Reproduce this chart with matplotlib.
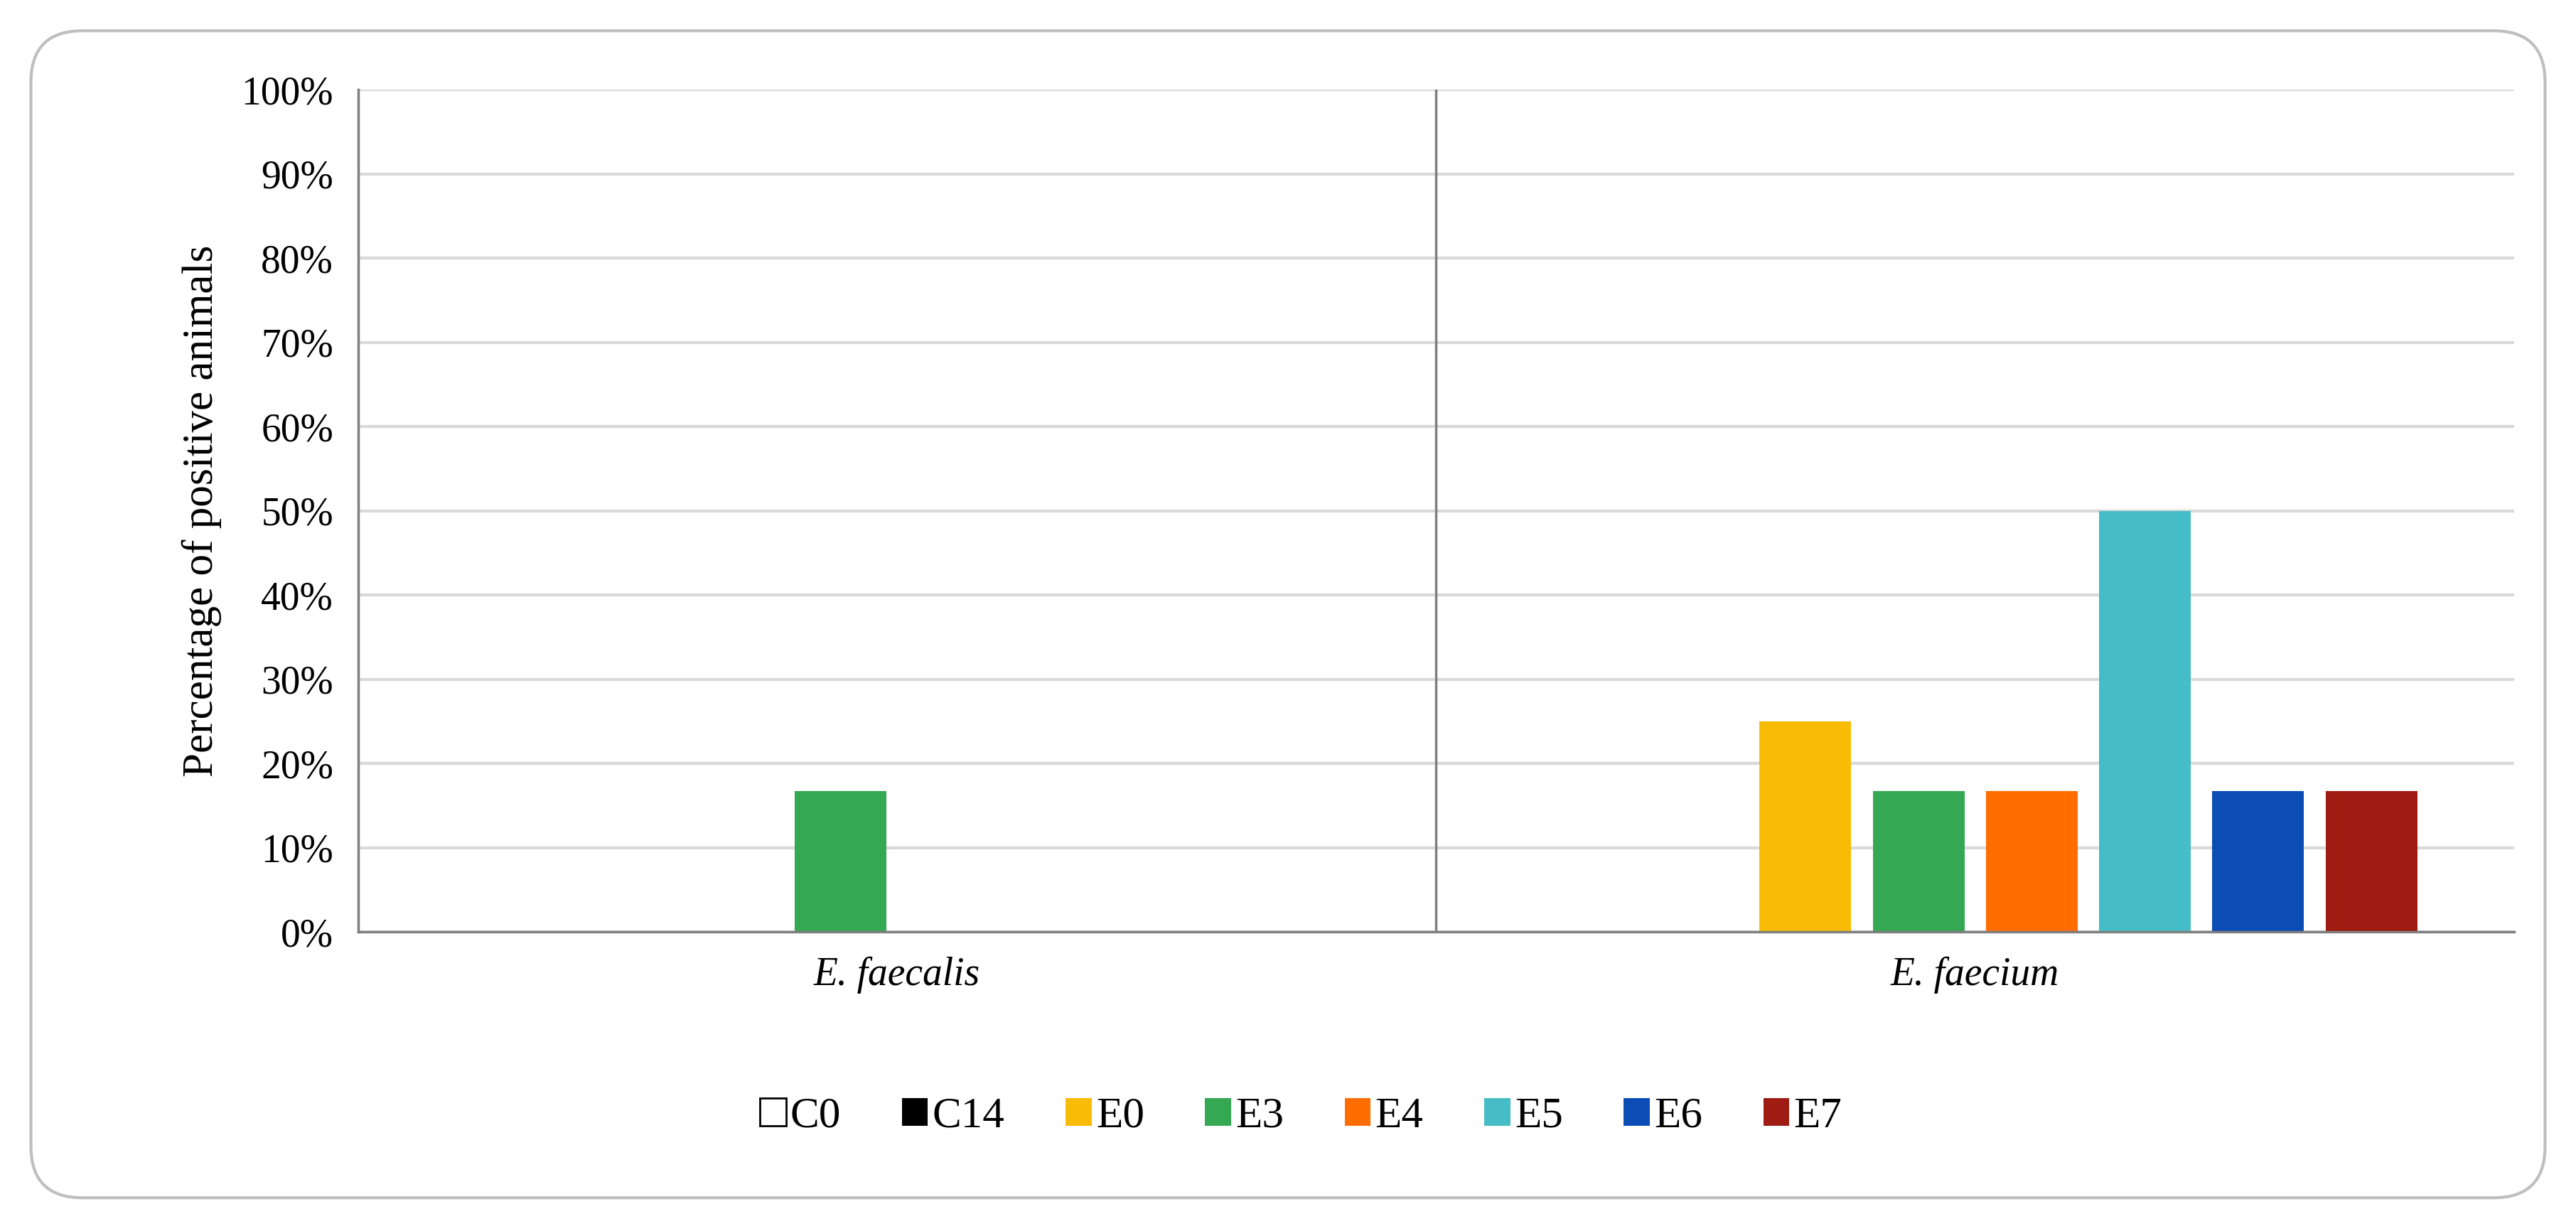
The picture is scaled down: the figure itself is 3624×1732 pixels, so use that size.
import numpy as np
import matplotlib.pyplot as plt
from matplotlib.patches import FancyBboxPatch

plt.rcParams['font.family'] = ['Liberation Serif', 'DejaVu Serif']

species = ["E. faecalis", "E. faecium"]
groups = ["C0", "C14", "E0", "E3", "E4", "E5", "E6", "E7"]
colors = ["white", "black", "#F9BC06", "#34A853", "#FF6D01", "#46BDC6", "#0B4DB4", "#9E1C12"]
values = {
    "C0": [0, 0],
    "C14": [0, 0],
    "E0": [0, 25],
    "E3": [16.7, 16.7],
    "E4": [0, 16.7],
    "E5": [0, 50],
    "E6": [0, 16.7],
    "E7": [0, 16.7],
}

fig = plt.figure(figsize=(36.24, 17.32), dpi=100)
frame = FancyBboxPatch((0.012, 0.027), 0.976, 0.948, boxstyle="round,pad=0,rounding_size=0.02",
                       transform=fig.transFigure, fc="white", ec="#BFBFBF", lw=3,
                       mutation_aspect=36.24 / 17.32, zorder=-10)
fig.patches.append(frame)
ax = fig.add_axes([0.139, 0.243, 0.837, 0.684])
ax.patch.set_alpha(0)

x = np.arange(len(species))
slot = 0.105
w = 0.085
for i, g in enumerate(groups):
    pos = x + (i - 3.5) * slot
    vals = values[g]
    ax.bar(pos, vals, w, color=colors[i], label=g,
           edgecolor="black" if g == "C0" else colors[i], linewidth=2 if g == "C0" else 0)

ax.set_xlim(-0.5, 1.5)
ax.set_ylim(0, 100)
ax.set_yticks(np.arange(0, 101, 10))
ax.set_yticklabels([f"{v}%" for v in range(0, 101, 10)], fontsize=40)
ax.set_xticks(x)
ax.set_xticklabels(species, fontsize=40, style="italic")
ax.tick_params(axis="both", length=0, pad=25)
ax.grid(axis="y", color="#D9D9D9", lw=3)
ax.set_axisbelow(True)
ax.axvline(0.5, color="#7F7F7F", lw=2.5)
for s in ["top", "right"]:
    ax.spines[s].set_visible(False)
ax.spines["left"].set_color("#7F7F7F")
ax.spines["left"].set_linewidth(2.5)
ax.spines["bottom"].set_color("#7F7F7F")
ax.spines["bottom"].set_linewidth(2.5)
ax.set_ylabel("Percentage of positive animals", fontsize=44, labelpad=20)

fig.legend(loc="center", bbox_to_anchor=(0.505, 0.093), ncol=8, frameon=False, fontsize=44,
           handlelength=0.6, handleheight=0.6, handletextpad=0.1, columnspacing=1.4)

fig.savefig("out.png", dpi=100)
